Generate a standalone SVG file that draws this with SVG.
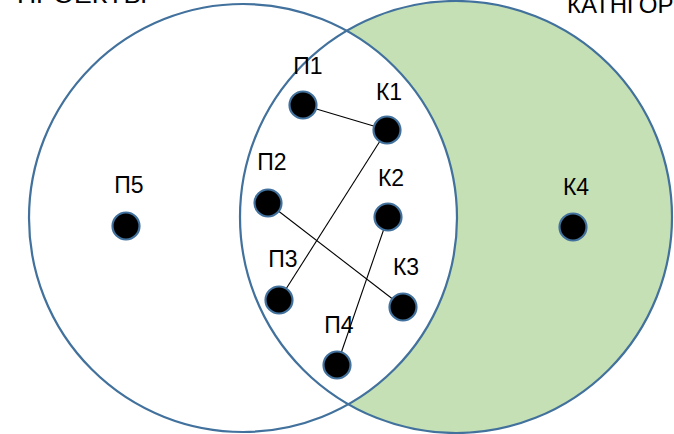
<svg xmlns="http://www.w3.org/2000/svg" width="674" height="434" viewBox="0 0 674 434">
<style>
.ring{fill:none;stroke:#41719C;stroke-width:2.2}
.node{fill:#000;stroke:#41719C;stroke-width:2.2}
.lbl{font-family:"Liberation Sans",Arial,sans-serif;font-size:23px;fill:#000;text-anchor:middle}
.title{font-family:"Liberation Sans",Arial,sans-serif;font-size:24px;fill:#000}
.edge{stroke:#000;stroke-width:1.1;fill:none}
</style>
<rect width="674" height="434" fill="#fff"/>
<g id="sets">
<circle cx="456" cy="217" r="216" fill="#C5E0B4"/>
<circle cx="243" cy="218" r="214" fill="#fff"/>
<circle class="ring" cx="456" cy="217" r="216"/>
<circle class="ring" cx="243" cy="218" r="214"/>
</g>
<text class="title" x="17" y="3" textLength="130" lengthAdjust="spacingAndGlyphs">ПРОЕКТЫ</text>
<text class="title" x="567" y="13">КАТНГОРИИ</text>
<g id="connectors">
<line class="edge" x1="303" y1="105" x2="387" y2="130"/>
<line class="edge" x1="387" y1="130" x2="279" y2="300"/>
<line class="edge" x1="268" y1="203" x2="403" y2="307"/>
<line class="edge" x1="388" y1="217" x2="337" y2="365"/>
</g>
<g id="P1"><circle class="node" cx="303" cy="105" r="13.5"/><text class="lbl" x="308" y="74">П1</text></g>
<g id="K1"><circle class="node" cx="387" cy="130" r="13.5"/><text class="lbl" x="389" y="100">К1</text></g>
<g id="P2"><circle class="node" cx="268" cy="203" r="13.5"/><text class="lbl" x="272" y="170">П2</text></g>
<g id="K2"><circle class="node" cx="388" cy="217" r="13.5"/><text class="lbl" x="391" y="186">К2</text></g>
<g id="P3"><circle class="node" cx="279" cy="300" r="13.5"/><text class="lbl" x="283" y="267">П3</text></g>
<g id="K3"><circle class="node" cx="403" cy="307" r="13.5"/><text class="lbl" x="406" y="275">К3</text></g>
<g id="P4"><circle class="node" cx="337" cy="365" r="13.5"/><text class="lbl" x="339" y="333">П4</text></g>
<g id="P5"><circle class="node" cx="126" cy="226" r="13.5"/><text class="lbl" x="129" y="193">П5</text></g>
<g id="K4"><circle class="node" cx="573" cy="227" r="13.5"/><text class="lbl" x="576" y="195">К4</text></g>
</svg>
